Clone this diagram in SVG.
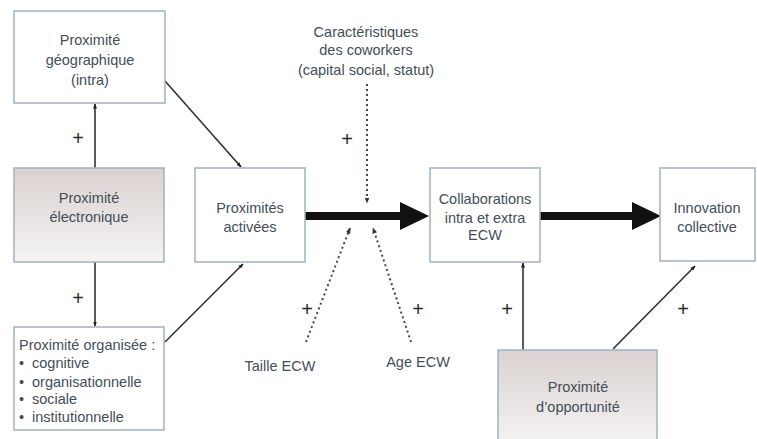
<svg xmlns="http://www.w3.org/2000/svg" width="757" height="439" viewBox="0 0 757 439">
<style>
.box{fill:#ffffff;stroke:#9fb2bf;stroke-width:1.5}
.gbox{fill:url(#g);stroke:#9fb2bf;stroke-width:1.5}
text{font-family:"Liberation Sans",Arial,sans-serif;font-size:14.5px;fill:#434e58}
.c{text-anchor:middle}
.plus{font-size:20px;fill:#2a2a2a}
.ln{stroke:#2e3236;stroke-width:1.6;fill:none}
.dot{stroke:#3d4a55;stroke-width:2;stroke-dasharray:2 3;fill:none}
.thick{stroke:#111;stroke-width:8;fill:none}
</style>
<defs>
<linearGradient id="g" x1="0" y1="0" x2="0" y2="1">
<stop offset="0" stop-color="#d9d2d0"/>
<stop offset="1" stop-color="#f5f3f3"/>
</linearGradient>
<marker id="a" viewBox="0 0 10 10" refX="9" refY="5" markerWidth="5" markerHeight="5" orient="auto" markerUnits="userSpaceOnUse">
<path d="M0,1 L10,5 L0,9 Z" fill="#1e2226"/>
</marker>
<marker id="ad" viewBox="0 0 10 10" refX="9" refY="5" markerWidth="6" markerHeight="6" orient="auto" markerUnits="userSpaceOnUse">
<path d="M0,1 L10,5 L0,9 Z" fill="#2c3640"/>
</marker>
</defs>

<g id="connectors">
<line class="ln" x1="95" y1="168" x2="95" y2="104" marker-end="url(#a)"/>
<line class="ln" x1="95" y1="262" x2="95" y2="326" marker-end="url(#a)"/>
<line class="ln" x1="165" y1="81" x2="241" y2="167" marker-end="url(#a)"/>
<line class="ln" x1="165" y1="342" x2="243" y2="264" marker-end="url(#a)"/>
<line class="thick" x1="305" y1="216" x2="402" y2="216"/>
<path d="M400,202 L429,216 L400,230 Z" fill="#111"/>
<line class="thick" x1="540" y1="216" x2="634" y2="216"/>
<path d="M632,202 L661,216 L632,230 Z" fill="#111"/>
<line class="dot" x1="367" y1="84" x2="367" y2="203" marker-end="url(#ad)"/>
<line class="dot" x1="306" y1="342" x2="350" y2="228" marker-end="url(#ad)"/>
<line class="dot" x1="411" y1="342" x2="373" y2="228" marker-end="url(#ad)"/>
<line class="ln" x1="523" y1="350" x2="523" y2="263" marker-end="url(#a)"/>
<line class="ln" x1="613" y1="349" x2="695" y2="266" marker-end="url(#a)"/>
<text class="plus c" x="78" y="145">+</text>
<text class="plus c" x="78" y="305">+</text>
<text class="plus c" x="347" y="146">+</text>
<text class="plus c" x="307" y="316">+</text>
<text class="plus c" x="418" y="316">+</text>
<text class="plus c" x="507" y="316">+</text>
<text class="plus c" x="683" y="316">+</text>
</g>

<g id="geo">
<rect class="box" x="14" y="11" width="151" height="92"/>
<text class="c" x="90" y="45">Proximité</text>
<text class="c" x="90" y="65">géographique</text>
<text class="c" x="90" y="85">(intra)</text>
</g>

<g id="electronique">
<rect class="gbox" x="14" y="168" width="150" height="94"/>
<text class="c" x="89" y="203">Proximité</text>
<text class="c" x="89" y="222">électronique</text>
</g>

<g id="organisee">
<rect class="box" x="14" y="327" width="150" height="103"/>
<text x="19" y="350">Proximité organisée :</text>
<text x="19" y="368">•</text><text x="32" y="368">cognitive</text>
<text x="19" y="387">•</text><text x="32" y="387">organisationnelle</text>
<text x="19" y="404">•</text><text x="32" y="404">sociale</text>
<text x="19" y="422">•</text><text x="32" y="422">institutionnelle</text>
</g>

<g id="activees">
<rect class="box" x="195" y="168" width="110" height="94"/>
<text class="c" x="250" y="213">Proximités</text>
<text class="c" x="250" y="232">activées</text>
</g>

<g id="caracteristiques">
<text class="c" x="366" y="37">Caractéristiques</text>
<text class="c" x="366" y="55">des coworkers</text>
<text class="c" x="366" y="75">(capital social, statut)</text>
</g>

<g id="taille">
<text class="c" x="280" y="371">Taille ECW</text>
</g>

<g id="age">
<text class="c" x="418" y="367">Age ECW</text>
</g>

<g id="collaborations">
<rect class="box" x="430" y="168" width="110" height="94"/>
<text class="c" x="485" y="204">Collaborations</text>
<text class="c" x="485" y="223">intra et extra</text>
<text class="c" x="485" y="240">ECW</text>
</g>

<g id="innovation">
<rect class="box" x="660" y="168" width="95" height="93"/>
<text class="c" x="707" y="213">Innovation</text>
<text class="c" x="707" y="232">collective</text>
</g>

<g id="opportunite">
<rect class="gbox" x="498" y="350" width="159" height="95"/>
<text class="c" x="578" y="392">Proximité</text>
<text class="c" x="578" y="412">d’opportunité</text>
</g>
</svg>
